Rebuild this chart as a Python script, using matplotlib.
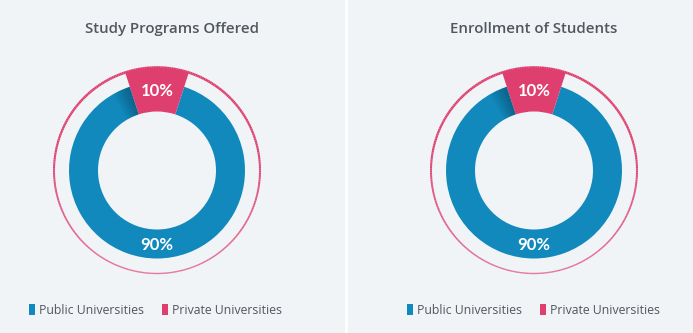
import numpy as np
import matplotlib.pyplot as plt
from matplotlib.patches import Wedge
from matplotlib.colors import to_rgb
from matplotlib.collections import LineCollection

# shares of public vs private universities
labels = ['Public Universities', 'Private Universities']
programs = [90, 10]
enrollment = [90, 10]
titles = ['Study Programs Offered', 'Enrollment of Students']

blue = '#1189bc'
pink = '#de3f6e'
bg = '#f1f4f7'
grey = '#52575d'

W, H = 693, 333
fig = plt.figure(figsize=(W / 100, H / 100), dpi=100, facecolor=bg)
ax = fig.add_axes([0, 0, 1, 1])
ax.set_facecolor(bg)

panels = [
    dict(values=programs, title=titles[0], cx=157, tx=172, leg=29),
    dict(values=enrollment, title=titles[1], cx=534, tx=534, leg=407),
]
cy = H - 170.5
r_in, r_blue, r_pink = 59, 88, 103

legends = []
for p in panels:
    vals = p['values']
    wedges, _ = ax.pie(vals, colors=[blue, pink], startangle=108,
                       center=(p['cx'], cy), radius=r_blue,
                       wedgeprops=dict(width=r_blue - r_in, linewidth=0))
    # private slice sticks out to the outer ring
    wedges[1].set_radius(r_pink)
    wedges[1].set_width(r_pink - r_in)

    # soft shadow on the blue ring just left of the pink slice
    th0 = wedges[0].theta1
    for k in range(12):
        a = th0 + k
        ax.add_patch(Wedge((p['cx'], cy), r_blue, a, a + 1.2,
                           width=r_blue - r_in, color='#062a40',
                           alpha=0.028 * (12 - k), lw=0))

    # thin outer ring, fading towards the bottom
    t = np.linspace(0, 2 * np.pi, 361)
    pts = np.column_stack([p['cx'] + r_pink * np.cos(t),
                           cy + r_pink * np.sin(t)]).reshape(-1, 1, 2)
    segs = np.concatenate([pts[:-1], pts[1:]], axis=1)
    up = (np.sin(t[:-1]) + 1) / 2
    cols = np.zeros((len(segs), 4))
    cols[:, :3] = to_rgb(pink)
    cols[:, 3] = np.clip(0.7 + 0.5 * up, 0, 1)
    ax.add_collection(LineCollection(segs, colors=cols,
                                     linewidths=1.0 + 0.9 * up, zorder=0.5))

    # percentage labels in the middle of each slice
    for wdg, v in zip(wedges, vals):
        mid = np.deg2rad((wdg.theta1 + wdg.theta2) / 2)
        rr = wdg.r - wdg.width / 2
        ax.text(p['cx'] + rr * np.cos(mid), cy + rr * np.sin(mid) - 1,
                f'{v}%', color='white', ha='center', va='center',
                fontsize=12, family='Lato', fontweight='bold')

    ax.text(p['tx'], H - 29, p['title'], ha='center', va='center',
            fontsize=10.8, color=grey, family='Open Sans', fontweight='semibold')

    leg = ax.legend(wedges, labels, ncol=2, frameon=False,
                    loc='center left', bbox_to_anchor=(p['leg'], H - 310),
                    bbox_transform=ax.transData,
                    handlelength=0.5, handleheight=1.0, handletextpad=0.35,
                    columnspacing=1.4, borderpad=0, borderaxespad=0,
                    prop=dict(family='Open Sans', size=8.8, weight='medium'))
    for txt in leg.get_texts():
        txt.set_color(grey)
    legends.append(leg)

for leg in legends[:-1]:
    ax.add_artist(leg)

# white divider between the two panels
ax.axvline(346, color='white', lw=2)

ax.set_xlim(0, W)
ax.set_ylim(0, H)
ax.set_aspect('auto')
ax.axis('off')

fig.savefig('out.png', dpi=100, facecolor=bg)
